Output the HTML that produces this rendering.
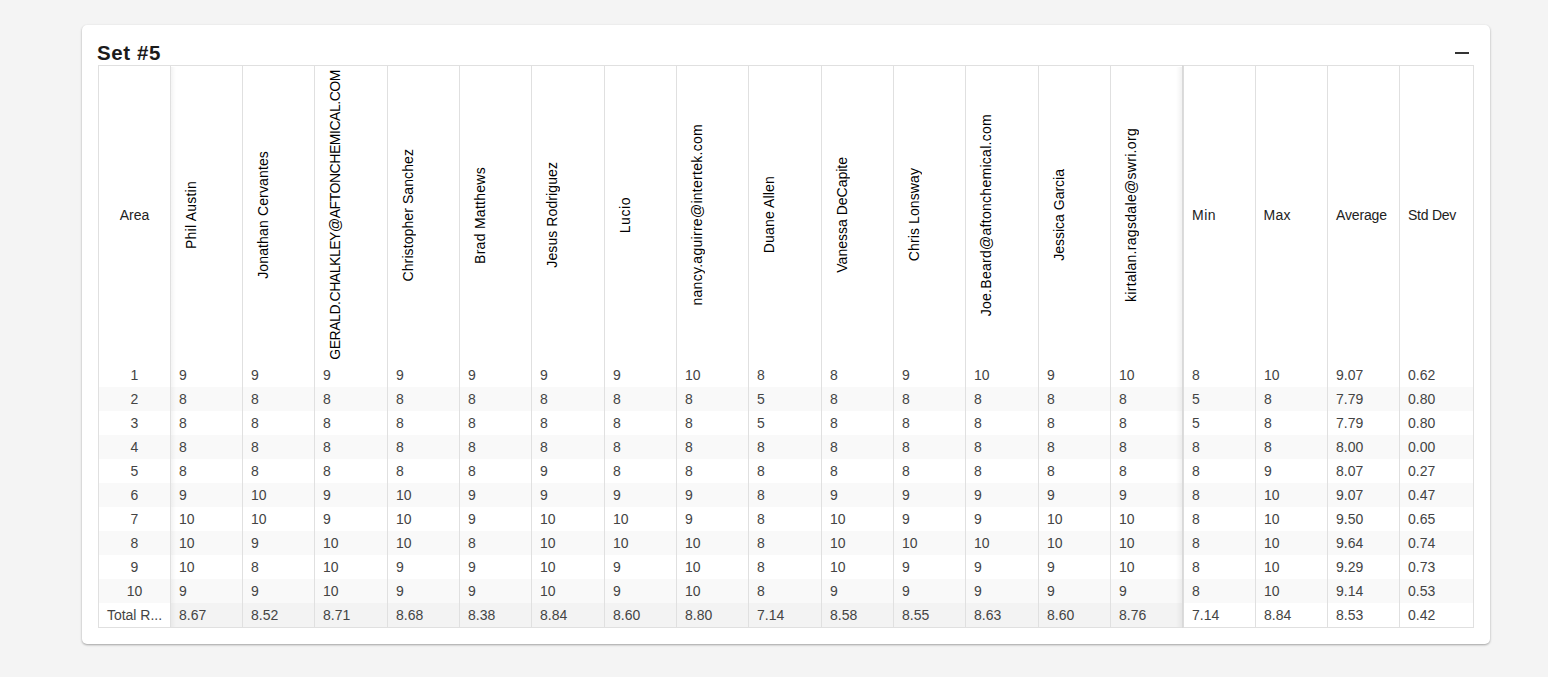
<!DOCTYPE html>
<html><head><meta charset="utf-8"><title>Set #5</title><style>
*{margin:0;padding:0;box-sizing:border-box}
html,body{width:1548px;height:677px;overflow:hidden;background:#f4f4f4;font-family:"Liberation Sans",sans-serif}
.card{position:absolute;left:82px;top:25px;width:1408px;height:619px;background:#fff;border-radius:5px;
box-shadow:0 1px 3px rgba(0,0,0,.12),0 1px 2px rgba(0,0,0,.24)}
.title{position:absolute;left:97px;top:41px;font-size:20.5px;font-weight:bold;color:#1b1b1b;letter-spacing:0.6px;line-height:24px}
.minus{position:absolute;left:1454.5px;top:52px;width:14.5px;height:2px;background:#333}
.bg{position:absolute}
.vl{position:absolute;width:1px;background:#e0e0e0}
.hl{position:absolute;height:1px;background:#e0e0e0}
.t{position:absolute;font-size:14px;color:#444;line-height:24px;white-space:nowrap}
.h{position:absolute;font-size:14px;color:#222;line-height:16px;white-space:nowrap}
.rc{position:absolute;display:flex;align-items:center}
.r{font-size:14px;color:#000;line-height:16px;white-space:nowrap;writing-mode:vertical-rl;transform:rotate(180deg)}
.shl{position:absolute;width:5px;background:linear-gradient(to right,rgba(0,0,0,.045),rgba(0,0,0,0))}
.shr{position:absolute;width:6px;background:linear-gradient(to left,rgba(0,0,0,.05),rgba(0,0,0,0))}
</style></head>
<body>
<div class="card"></div>
<div class="title">Set #5</div>
<div class="minus"></div>
<div class="bg" style="left:98px;top:387px;width:1376px;height:24px;background:#f9f9f9"></div>
<div class="bg" style="left:98px;top:435px;width:1376px;height:24px;background:#f9f9f9"></div>
<div class="bg" style="left:98px;top:483px;width:1376px;height:24px;background:#f9f9f9"></div>
<div class="bg" style="left:98px;top:531px;width:1376px;height:24px;background:#f9f9f9"></div>
<div class="bg" style="left:98px;top:579px;width:1376px;height:24px;background:#f9f9f9"></div>
<div class="bg" style="left:170px;top:603px;width:1012px;height:24px;background:#f3f3f3"></div>
<div class="shl" style="left:171px;top:67px;height:560px"></div>
<div class="shr" style="left:1176px;top:67px;height:560px"></div>
<div class="hl" style="left:98px;top:65px;width:1376px"></div>
<div class="hl" style="left:98px;top:627px;width:1376px"></div>
<div class="vl" style="left:98px;top:65px;height:563px"></div>
<div class="vl" style="left:170px;top:65px;height:563px"></div>
<div class="vl" style="left:242px;top:65px;height:563px"></div>
<div class="vl" style="left:314px;top:65px;height:563px"></div>
<div class="vl" style="left:387px;top:65px;height:563px"></div>
<div class="vl" style="left:459px;top:65px;height:563px"></div>
<div class="vl" style="left:531px;top:65px;height:563px"></div>
<div class="vl" style="left:604px;top:65px;height:563px"></div>
<div class="vl" style="left:676px;top:65px;height:563px"></div>
<div class="vl" style="left:748px;top:65px;height:563px"></div>
<div class="vl" style="left:821px;top:65px;height:563px"></div>
<div class="vl" style="left:893px;top:65px;height:563px"></div>
<div class="vl" style="left:965px;top:65px;height:563px"></div>
<div class="vl" style="left:1038px;top:65px;height:563px"></div>
<div class="vl" style="left:1110px;top:65px;height:563px"></div>
<div class="vl" style="left:1182px;top:65px;height:563px;background:#d9d9d9"></div>
<div class="vl" style="left:1183px;top:65px;height:563px;background:#dcdcdc"></div>
<div class="vl" style="left:1255px;top:65px;height:563px"></div>
<div class="vl" style="left:1327px;top:65px;height:563px"></div>
<div class="vl" style="left:1399px;top:65px;height:563px"></div>
<div class="vl" style="left:1473px;top:65px;height:563px"></div>
<div class="h" style="left:99px;width:71px;top:207.0px;text-align:center">Area</div>
<div class="rc" style="left:171px;top:66.5px;width:71px;height:297px;padding-left:12px"><div class="r" id="h1" style="letter-spacing:0.24px">Phil Austin</div></div>
<div class="rc" style="left:243px;top:66.5px;width:71px;height:297px;padding-left:12px"><div class="r" id="h2" style="letter-spacing:0.14px">Jonathan Cervantes</div></div>
<div class="rc" style="left:315px;top:66.5px;width:72px;height:297px;padding-left:12px"><div class="r" id="h3" style="letter-spacing:-0.46px">GERALD.CHALKLEY@AFTONCHEMICAL.COM</div></div>
<div class="rc" style="left:388px;top:66.5px;width:71px;height:297px;padding-left:12px"><div class="r" id="h4" style="letter-spacing:0.09px">Christopher Sanchez</div></div>
<div class="rc" style="left:460px;top:66.5px;width:71px;height:297px;padding-left:12px"><div class="r" id="h5" style="letter-spacing:0.275px">Brad Matthews</div></div>
<div class="rc" style="left:532px;top:66.5px;width:72px;height:297px;padding-left:12px"><div class="r" id="h6" style="letter-spacing:0.09px">Jesus Rodriguez</div></div>
<div class="rc" style="left:605px;top:66.5px;width:71px;height:297px;padding-left:12px"><div class="r" id="h7" style="letter-spacing:0.55px">Lucio</div></div>
<div class="rc" style="left:677px;top:66.5px;width:71px;height:297px;padding-left:12px"><div class="r" id="h8" style="letter-spacing:0.28px">nancy.aguirre@intertek.com</div></div>
<div class="rc" style="left:749px;top:66.5px;width:72px;height:297px;padding-left:12px"><div class="r" id="h9" style="letter-spacing:0.15px">Duane Allen</div></div>
<div class="rc" style="left:822px;top:66.5px;width:71px;height:297px;padding-left:12px"><div class="r" id="h10" style="letter-spacing:0px">Vanessa DeCapite</div></div>
<div class="rc" style="left:894px;top:66.5px;width:71px;height:297px;padding-left:12px"><div class="r" id="h11" style="letter-spacing:0.1px">Chris Lonsway</div></div>
<div class="rc" style="left:966px;top:66.5px;width:72px;height:297px;padding-left:12px"><div class="r" id="h12" style="letter-spacing:0.28px">Joe.Beard@aftonchemical.com</div></div>
<div class="rc" style="left:1039px;top:66.5px;width:71px;height:297px;padding-left:12px"><div class="r" id="h13" style="letter-spacing:0px">Jessica Garcia</div></div>
<div class="rc" style="left:1111px;top:66.5px;width:71px;height:297px;padding-left:12px"><div class="r" id="h14" style="letter-spacing:0.31px">kirtalan.ragsdale@swri.org</div></div>
<div class="h" style="left:1192px;top:207.0px;letter-spacing:0.5px">Min</div>
<div class="h" style="left:1263.5px;top:207.0px;letter-spacing:0.3px">Max</div>
<div class="h" style="left:1336px;top:207.0px;letter-spacing:-0.15px">Average</div>
<div class="h" style="left:1408px;top:207.0px;letter-spacing:-0.25px">Std Dev</div>
<div class="t" style="left:99px;width:71px;top:363px;text-align:center">1</div>
<div class="t" style="left:179px;top:363px">9</div>
<div class="t" style="left:251px;top:363px">9</div>
<div class="t" style="left:323px;top:363px">9</div>
<div class="t" style="left:396px;top:363px">9</div>
<div class="t" style="left:468px;top:363px">9</div>
<div class="t" style="left:540px;top:363px">9</div>
<div class="t" style="left:613px;top:363px">9</div>
<div class="t" style="left:685px;top:363px">10</div>
<div class="t" style="left:757px;top:363px">8</div>
<div class="t" style="left:830px;top:363px">8</div>
<div class="t" style="left:902px;top:363px">9</div>
<div class="t" style="left:974px;top:363px">10</div>
<div class="t" style="left:1047px;top:363px">9</div>
<div class="t" style="left:1119px;top:363px">10</div>
<div class="t" style="left:1192px;top:363px">8</div>
<div class="t" style="left:1264px;top:363px">10</div>
<div class="t" style="left:1336px;top:363px">9.07</div>
<div class="t" style="left:1408px;top:363px">0.62</div>
<div class="t" style="left:99px;width:71px;top:387px;text-align:center">2</div>
<div class="t" style="left:179px;top:387px">8</div>
<div class="t" style="left:251px;top:387px">8</div>
<div class="t" style="left:323px;top:387px">8</div>
<div class="t" style="left:396px;top:387px">8</div>
<div class="t" style="left:468px;top:387px">8</div>
<div class="t" style="left:540px;top:387px">8</div>
<div class="t" style="left:613px;top:387px">8</div>
<div class="t" style="left:685px;top:387px">8</div>
<div class="t" style="left:757px;top:387px">5</div>
<div class="t" style="left:830px;top:387px">8</div>
<div class="t" style="left:902px;top:387px">8</div>
<div class="t" style="left:974px;top:387px">8</div>
<div class="t" style="left:1047px;top:387px">8</div>
<div class="t" style="left:1119px;top:387px">8</div>
<div class="t" style="left:1192px;top:387px">5</div>
<div class="t" style="left:1264px;top:387px">8</div>
<div class="t" style="left:1336px;top:387px">7.79</div>
<div class="t" style="left:1408px;top:387px">0.80</div>
<div class="t" style="left:99px;width:71px;top:411px;text-align:center">3</div>
<div class="t" style="left:179px;top:411px">8</div>
<div class="t" style="left:251px;top:411px">8</div>
<div class="t" style="left:323px;top:411px">8</div>
<div class="t" style="left:396px;top:411px">8</div>
<div class="t" style="left:468px;top:411px">8</div>
<div class="t" style="left:540px;top:411px">8</div>
<div class="t" style="left:613px;top:411px">8</div>
<div class="t" style="left:685px;top:411px">8</div>
<div class="t" style="left:757px;top:411px">5</div>
<div class="t" style="left:830px;top:411px">8</div>
<div class="t" style="left:902px;top:411px">8</div>
<div class="t" style="left:974px;top:411px">8</div>
<div class="t" style="left:1047px;top:411px">8</div>
<div class="t" style="left:1119px;top:411px">8</div>
<div class="t" style="left:1192px;top:411px">5</div>
<div class="t" style="left:1264px;top:411px">8</div>
<div class="t" style="left:1336px;top:411px">7.79</div>
<div class="t" style="left:1408px;top:411px">0.80</div>
<div class="t" style="left:99px;width:71px;top:435px;text-align:center">4</div>
<div class="t" style="left:179px;top:435px">8</div>
<div class="t" style="left:251px;top:435px">8</div>
<div class="t" style="left:323px;top:435px">8</div>
<div class="t" style="left:396px;top:435px">8</div>
<div class="t" style="left:468px;top:435px">8</div>
<div class="t" style="left:540px;top:435px">8</div>
<div class="t" style="left:613px;top:435px">8</div>
<div class="t" style="left:685px;top:435px">8</div>
<div class="t" style="left:757px;top:435px">8</div>
<div class="t" style="left:830px;top:435px">8</div>
<div class="t" style="left:902px;top:435px">8</div>
<div class="t" style="left:974px;top:435px">8</div>
<div class="t" style="left:1047px;top:435px">8</div>
<div class="t" style="left:1119px;top:435px">8</div>
<div class="t" style="left:1192px;top:435px">8</div>
<div class="t" style="left:1264px;top:435px">8</div>
<div class="t" style="left:1336px;top:435px">8.00</div>
<div class="t" style="left:1408px;top:435px">0.00</div>
<div class="t" style="left:99px;width:71px;top:459px;text-align:center">5</div>
<div class="t" style="left:179px;top:459px">8</div>
<div class="t" style="left:251px;top:459px">8</div>
<div class="t" style="left:323px;top:459px">8</div>
<div class="t" style="left:396px;top:459px">8</div>
<div class="t" style="left:468px;top:459px">8</div>
<div class="t" style="left:540px;top:459px">9</div>
<div class="t" style="left:613px;top:459px">8</div>
<div class="t" style="left:685px;top:459px">8</div>
<div class="t" style="left:757px;top:459px">8</div>
<div class="t" style="left:830px;top:459px">8</div>
<div class="t" style="left:902px;top:459px">8</div>
<div class="t" style="left:974px;top:459px">8</div>
<div class="t" style="left:1047px;top:459px">8</div>
<div class="t" style="left:1119px;top:459px">8</div>
<div class="t" style="left:1192px;top:459px">8</div>
<div class="t" style="left:1264px;top:459px">9</div>
<div class="t" style="left:1336px;top:459px">8.07</div>
<div class="t" style="left:1408px;top:459px">0.27</div>
<div class="t" style="left:99px;width:71px;top:483px;text-align:center">6</div>
<div class="t" style="left:179px;top:483px">9</div>
<div class="t" style="left:251px;top:483px">10</div>
<div class="t" style="left:323px;top:483px">9</div>
<div class="t" style="left:396px;top:483px">10</div>
<div class="t" style="left:468px;top:483px">9</div>
<div class="t" style="left:540px;top:483px">9</div>
<div class="t" style="left:613px;top:483px">9</div>
<div class="t" style="left:685px;top:483px">9</div>
<div class="t" style="left:757px;top:483px">8</div>
<div class="t" style="left:830px;top:483px">9</div>
<div class="t" style="left:902px;top:483px">9</div>
<div class="t" style="left:974px;top:483px">9</div>
<div class="t" style="left:1047px;top:483px">9</div>
<div class="t" style="left:1119px;top:483px">9</div>
<div class="t" style="left:1192px;top:483px">8</div>
<div class="t" style="left:1264px;top:483px">10</div>
<div class="t" style="left:1336px;top:483px">9.07</div>
<div class="t" style="left:1408px;top:483px">0.47</div>
<div class="t" style="left:99px;width:71px;top:507px;text-align:center">7</div>
<div class="t" style="left:179px;top:507px">10</div>
<div class="t" style="left:251px;top:507px">10</div>
<div class="t" style="left:323px;top:507px">9</div>
<div class="t" style="left:396px;top:507px">10</div>
<div class="t" style="left:468px;top:507px">9</div>
<div class="t" style="left:540px;top:507px">10</div>
<div class="t" style="left:613px;top:507px">10</div>
<div class="t" style="left:685px;top:507px">9</div>
<div class="t" style="left:757px;top:507px">8</div>
<div class="t" style="left:830px;top:507px">10</div>
<div class="t" style="left:902px;top:507px">9</div>
<div class="t" style="left:974px;top:507px">9</div>
<div class="t" style="left:1047px;top:507px">10</div>
<div class="t" style="left:1119px;top:507px">10</div>
<div class="t" style="left:1192px;top:507px">8</div>
<div class="t" style="left:1264px;top:507px">10</div>
<div class="t" style="left:1336px;top:507px">9.50</div>
<div class="t" style="left:1408px;top:507px">0.65</div>
<div class="t" style="left:99px;width:71px;top:531px;text-align:center">8</div>
<div class="t" style="left:179px;top:531px">10</div>
<div class="t" style="left:251px;top:531px">9</div>
<div class="t" style="left:323px;top:531px">10</div>
<div class="t" style="left:396px;top:531px">10</div>
<div class="t" style="left:468px;top:531px">8</div>
<div class="t" style="left:540px;top:531px">10</div>
<div class="t" style="left:613px;top:531px">10</div>
<div class="t" style="left:685px;top:531px">10</div>
<div class="t" style="left:757px;top:531px">8</div>
<div class="t" style="left:830px;top:531px">10</div>
<div class="t" style="left:902px;top:531px">10</div>
<div class="t" style="left:974px;top:531px">10</div>
<div class="t" style="left:1047px;top:531px">10</div>
<div class="t" style="left:1119px;top:531px">10</div>
<div class="t" style="left:1192px;top:531px">8</div>
<div class="t" style="left:1264px;top:531px">10</div>
<div class="t" style="left:1336px;top:531px">9.64</div>
<div class="t" style="left:1408px;top:531px">0.74</div>
<div class="t" style="left:99px;width:71px;top:555px;text-align:center">9</div>
<div class="t" style="left:179px;top:555px">10</div>
<div class="t" style="left:251px;top:555px">8</div>
<div class="t" style="left:323px;top:555px">10</div>
<div class="t" style="left:396px;top:555px">9</div>
<div class="t" style="left:468px;top:555px">9</div>
<div class="t" style="left:540px;top:555px">10</div>
<div class="t" style="left:613px;top:555px">9</div>
<div class="t" style="left:685px;top:555px">10</div>
<div class="t" style="left:757px;top:555px">8</div>
<div class="t" style="left:830px;top:555px">10</div>
<div class="t" style="left:902px;top:555px">9</div>
<div class="t" style="left:974px;top:555px">9</div>
<div class="t" style="left:1047px;top:555px">9</div>
<div class="t" style="left:1119px;top:555px">10</div>
<div class="t" style="left:1192px;top:555px">8</div>
<div class="t" style="left:1264px;top:555px">10</div>
<div class="t" style="left:1336px;top:555px">9.29</div>
<div class="t" style="left:1408px;top:555px">0.73</div>
<div class="t" style="left:99px;width:71px;top:579px;text-align:center">10</div>
<div class="t" style="left:179px;top:579px">9</div>
<div class="t" style="left:251px;top:579px">9</div>
<div class="t" style="left:323px;top:579px">10</div>
<div class="t" style="left:396px;top:579px">9</div>
<div class="t" style="left:468px;top:579px">9</div>
<div class="t" style="left:540px;top:579px">10</div>
<div class="t" style="left:613px;top:579px">9</div>
<div class="t" style="left:685px;top:579px">10</div>
<div class="t" style="left:757px;top:579px">8</div>
<div class="t" style="left:830px;top:579px">9</div>
<div class="t" style="left:902px;top:579px">9</div>
<div class="t" style="left:974px;top:579px">9</div>
<div class="t" style="left:1047px;top:579px">9</div>
<div class="t" style="left:1119px;top:579px">9</div>
<div class="t" style="left:1192px;top:579px">8</div>
<div class="t" style="left:1264px;top:579px">10</div>
<div class="t" style="left:1336px;top:579px">9.14</div>
<div class="t" style="left:1408px;top:579px">0.53</div>
<div class="t" style="left:99px;width:71px;top:603px;text-align:center">Total R...</div>
<div class="t" style="left:179px;top:603px">8.67</div>
<div class="t" style="left:251px;top:603px">8.52</div>
<div class="t" style="left:323px;top:603px">8.71</div>
<div class="t" style="left:396px;top:603px">8.68</div>
<div class="t" style="left:468px;top:603px">8.38</div>
<div class="t" style="left:540px;top:603px">8.84</div>
<div class="t" style="left:613px;top:603px">8.60</div>
<div class="t" style="left:685px;top:603px">8.80</div>
<div class="t" style="left:757px;top:603px">7.14</div>
<div class="t" style="left:830px;top:603px">8.58</div>
<div class="t" style="left:902px;top:603px">8.55</div>
<div class="t" style="left:974px;top:603px">8.63</div>
<div class="t" style="left:1047px;top:603px">8.60</div>
<div class="t" style="left:1119px;top:603px">8.76</div>
<div class="t" style="left:1192px;top:603px">7.14</div>
<div class="t" style="left:1264px;top:603px">8.84</div>
<div class="t" style="left:1336px;top:603px">8.53</div>
<div class="t" style="left:1408px;top:603px">0.42</div>
</body></html>
